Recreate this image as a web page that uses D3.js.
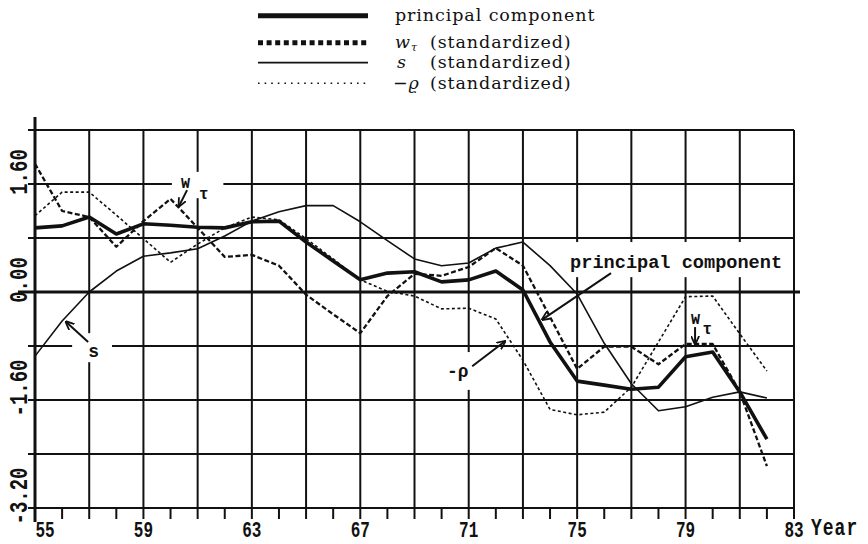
<!DOCTYPE html>
<html><head><meta charset="utf-8">
<script src="https://cdn.jsdelivr.net/npm/d3@7/dist/d3.min.js"></script>
<style>body{margin:0;background:#fff}svg{display:block}</style>
</head><body><svg id="c" width="868" height="544"></svg>
<script>
// ---------------- data ----------------
const years = [55,56,57,58,59,60,61,62,63,64,65,66,67,68,69,70,71,72,73,74,75,76,77,78,79,80,81,82];
const principal = [0.95,0.98,1.11,0.86,1.01,0.99,0.96,0.95,1.04,1.05,0.74,0.46,0.18,0.28,0.30,0.15,0.18,0.31,0.03,-0.74,-1.32,-1.38,-1.44,-1.41,-0.96,-0.89,-1.48,-2.18];
const wTau = [1.90,1.20,1.11,0.67,1.05,1.38,0.95,0.52,0.55,0.39,-0.04,-0.33,-0.61,-0.06,0.27,0.24,0.37,0.65,0.39,-0.37,-1.14,-0.81,-0.81,-1.07,-0.77,-0.77,-1.48,-2.58];
const sSeries = [-0.95,-0.43,0.00,0.31,0.53,0.58,0.64,0.83,1.05,1.19,1.28,1.28,1.04,0.76,0.49,0.39,0.43,0.65,0.74,0.39,-0.03,-0.76,-1.36,-1.76,-1.70,-1.56,-1.48,-1.57];
const negRho = [1.13,1.48,1.48,1.14,0.79,0.44,0.71,0.95,1.11,1.07,0.79,0.49,0.18,0.01,-0.06,-0.25,-0.24,-0.40,-1.01,-1.74,-1.82,-1.78,-1.41,-0.74,-0.07,-0.06,-0.62,-1.17];

const xTickLabels = ["55","59","63","67","71","75","79","83"];
const xTickValues = [55,59,63,67,71,75,79,83];
const yTickLabels = ["1.60","0.00","-1.60","-3.20"];
const yTickValues = [1.6,0,-1.6,-3.2];
const gridYears = [57,59,61,63,65,67,69,71,73,75,77,79,81,83];
const gridValues = [2.4,1.6,0.8,-0.8,-1.6,-2.4,-3.2];
const minorYears = [55,56,57,58,59,60,61,62,63,64,65,66,67,68,69,70,71,72,73,74,75,76,77,78,79,80,81,82,83];

// ---------------- setup ----------------
const svg = d3.select("#c");
svg.append("rect").attr("width",868).attr("height",544).attr("fill","#fff");
const x = d3.scaleLinear().domain([55,83]).range([35,794]);
const y = d3.scaleLinear().domain([-3.2,2.4]).range([508,130]);
const mono = "'Liberation Mono','DejaVu Sans Mono',monospace";
const serif = "'DejaVu Serif','Liberation Serif',serif";

svg.append("defs").append("marker")
  .attr("id","ah").attr("viewBox","0 -5 10 10").attr("refX",9).attr("refY",0)
  .attr("markerUnits","userSpaceOnUse").attr("markerWidth",9).attr("markerHeight",9)
  .attr("orient","auto")
  .append("path").attr("d","M0,-4.5L10,0L0,4.5").attr("fill","none").attr("stroke","#111").attr("stroke-width",2);

// ---------------- grid ----------------
const grid = svg.append("g").attr("stroke","#111");
grid.selectAll(".v").data(gridYears).join("line")
  .attr("x1",d=>x(d)).attr("x2",d=>x(d)).attr("y1",y(2.4)).attr("y2",y(-3.2)).attr("stroke-width",2);
grid.selectAll(".h").data(gridValues).join("line")
  .attr("x1",x(55)-7).attr("x2",x(83)).attr("y1",d=>y(d)).attr("y2",d=>y(d)).attr("stroke-width",2);
grid.append("line").attr("x1",x(55)-17).attr("x2",x(83)+6).attr("y1",y(0)).attr("y2",y(0)).attr("stroke-width",3);
grid.append("line").attr("x1",x(55)).attr("x2",x(55)).attr("y1",y(2.4)-13).attr("y2",y(-3.2)+14).attr("stroke-width",3);
grid.selectAll(".t").data(minorYears).join("line")
  .attr("x1",d=>x(d)).attr("x2",d=>x(d)).attr("y1",y(-3.2)).attr("y2",y(-3.2)+11).attr("stroke-width",2);

// white label backgrounds (gaps in grid)
const gaps = [
  [60.05,61.95,1.78,1.39],   // w_tau top
  [56.37,57.84,-0.61,-1.04], // s
  [74.6,82.75,0.74,0.22],    // principal component
  [70.09,71.2,-0.89,-1.45],  // -rho
  [79.08,80.05,-0.12,-0.71]  // w_tau right
];
svg.append("g").selectAll("rect").data(gaps).join("rect")
  .attr("x",d=>x(d[0])).attr("width",d=>x(d[1])-x(d[0]))
  .attr("y",d=>y(d[2])).attr("height",d=>y(d[3])-y(d[2])).attr("fill","#fff");

// ---------------- tick labels ----------------
const tl = svg.append("g").attr("font-family",mono).attr("font-weight","bold").attr("fill","#111");
tl.selectAll(".xl").data(xTickValues).join("text")
  .attr("transform",(d,i)=>`translate(${x(d)+(i===0?10:0)},${y(-3.2)+29}) scale(1,1.35)`)
  .attr("text-anchor","middle").attr("font-size",16).text((d,i)=>xTickLabels[i]);
tl.append("text").attr("transform",`translate(${x(83)+17},${y(-3.2)+27}) scale(1,1.3)`)
  .attr("font-size",18).attr("letter-spacing",1).text("Year");
tl.selectAll(".yl").data(yTickValues).join("text")
  .attr("transform",d=>`translate(27,${y(d)-12}) rotate(-90) scale(1,1.35)`)
  .attr("text-anchor","middle").attr("font-size",19).text((d,i)=>yTickLabels[i]);

// ---------------- series ----------------
const line = vals => d3.line().x((d,i)=>x(years[i])).y(d=>y(d))(vals);
const series = [
  {v:sSeries, w:1.6, dash:null},
  {v:negRho, w:1.6, dash:"3,2.5"},
  {v:wTau, w:2.3, dash:"5,2.5"},
  {v:principal, w:3.6, dash:null}
];
svg.append("g").selectAll("path").data(series).join("path")
  .attr("d",d=>line(d.v)).attr("fill","none").attr("stroke","#111")
  .attr("stroke-width",d=>d.w).attr("stroke-dasharray",d=>d.dash)
  .attr("stroke-linejoin","round");

// ---------------- annotations ----------------
const arrows = [
  [[60.61,1.51],[60.31,1.27]],
  [[56.96,-0.74],[56.14,-0.44]],
  [[76.25,0.28],[73.71,-0.41]],
  [[71.13,-1.10],[72.34,-0.73]],
  [[79.35,-0.52],[79.35,-0.77]]
];
svg.append("g").selectAll("line").data(arrows).join("line")
  .attr("x1",d=>x(d[0][0])).attr("y1",d=>y(d[0][1]))
  .attr("x2",d=>x(d[1][0])).attr("y2",d=>y(d[1][1]))
  .attr("stroke","#111").attr("stroke-width",2).attr("marker-end","url(#ah)");

const ann = svg.append("g").attr("font-family",mono).attr("font-weight","bold").attr("fill","#111");
const labels = [
  {t:"W", yr:60.39, v:1.54, fs:15},
  {t:"τ", yr:61.05, v:1.38, fs:16},
  {t:"s", yr:56.96, v:-0.96, fs:18},
  {t:"principal component", yr:74.74, v:0.356, fs:18.6},
  {t:"-ρ", yr:70.2, v:-1.26, fs:18},
  {t:"W", yr:79.2, v:-0.47, fs:15},
  {t:"τ", yr:79.62, v:-0.62, fs:16}
];
ann.selectAll("text").data(labels).join("text")
  .attr("x",d=>x(d.yr)).attr("y",d=>y(d.v)).attr("font-size",d=>d.fs).text(d=>d.t);

// ---------------- legend ----------------
const legendRows = [
  {w:5, dash:null, ly:15.7},
  {w:5, dash:"5,3.6", ly:42.7},
  {w:1.8, dash:null, ly:62.7},
  {w:1.6, dash:"1.6,5", ly:83.3}
];
const lg = svg.append("g");
lg.selectAll("line").data(legendRows).join("line")
  .attr("x1",258).attr("x2",368).attr("y1",d=>d.ly).attr("y2",d=>d.ly)
  .attr("stroke","#111").attr("stroke-width",d=>d.w).attr("stroke-dasharray",d=>d.dash);
const lt = lg.append("g").attr("font-family",serif).attr("font-size",17.5).attr("letter-spacing",0.9).attr("fill","#111");
lt.append("text").attr("x",395).attr("y",21).text("principal component");
const r2 = lt.append("text").attr("x",395).attr("y",47.5);
r2.append("tspan").attr("font-style","italic").text("w");
r2.append("tspan").attr("font-style","italic").attr("font-size",11).attr("dy",3).text("τ");
const r3 = lt.append("text").attr("x",397).attr("y",68);
r3.append("tspan").attr("font-style","italic").text("s");
const r4 = lt.append("text").attr("x",393).attr("y",88.5);
r4.append("tspan").text("−");
r4.append("tspan").attr("font-style","italic").text("ϱ");
[47.5,68,88.5].forEach(b=>lt.append("text").attr("x",430).attr("y",b).text("(standardized)"));
</script></body></html>
